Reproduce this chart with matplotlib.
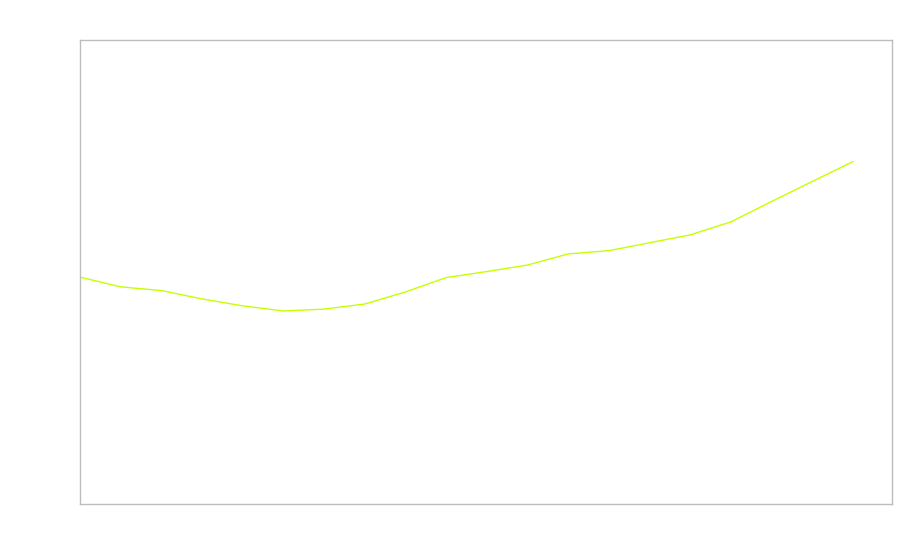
import numpy as np
import matplotlib
matplotlib.use('Agg')
import matplotlib.pyplot as plt

# values (y axis scale is hidden, 0-100 assumed)
steps = list(range(20))
values = [48.9, 46.8, 46.0, 44.2, 42.7, 41.6, 42.0, 43.1, 45.7, 48.8,
          50.1, 51.5, 53.9, 54.6, 56.3, 58.0, 60.8, 65.2, 69.5, 73.8]

fig = plt.figure(figsize=(9, 5.6), dpi=100)
ax = fig.add_axes([80 / 900, 56 / 560, 812 / 900, 464 / 560])

ax.plot(steps, values, color='#c6ff00', linewidth=1)

ax.set_xlim(0, 19.96)
ax.set_ylim(0, 100)
ax.set_xticks([])
ax.set_yticks([])
for side in ax.spines.values():
    side.set_color('#bdbdbd')
    side.set_linewidth(1)

fig.savefig('out.png', dpi=100, facecolor='white')
